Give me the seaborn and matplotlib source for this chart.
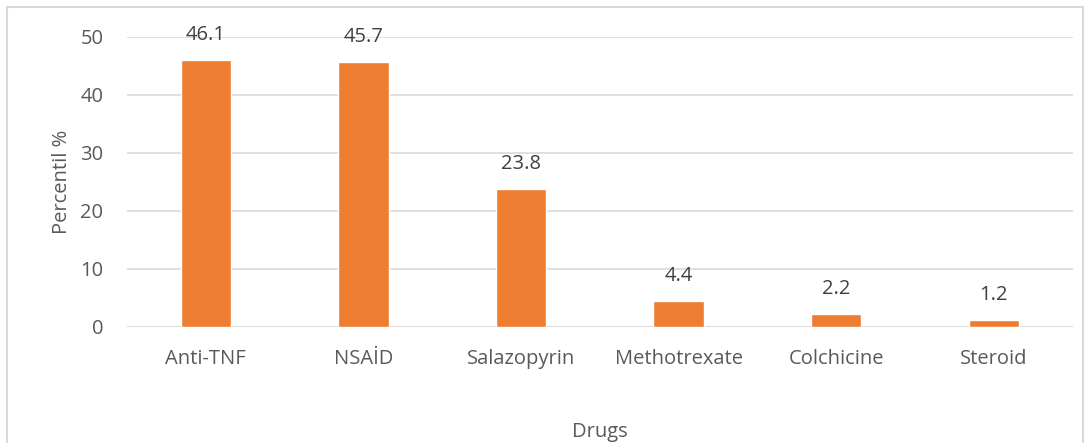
import matplotlib
matplotlib.use("Agg")
import matplotlib.pyplot as plt
import pandas as pd
import seaborn as sns
from matplotlib.patches import Rectangle

# values
drugs = ["Anti-TNF", "NSAİD", "Salazopyrin", "Methotrexate", "Colchicine", "Steroid"]
percent = [46.1, 45.7, 23.8, 4.4, 2.2, 1.2]
y_ticks = [0, 10, 20, 30, 40, 50]

df = pd.DataFrame({"drug": drugs, "pct": percent})

sns.set_theme(style="white")
plt.rcParams["font.family"] = ["Open Sans", "DejaVu Sans"]
text_col = "#595959"
fs = 14.5

fig = plt.figure(figsize=(10.9, 4.43), dpi=100)
ax = fig.add_axes([0.1165, 0.2619, 0.8675, 0.6546])

sns.barplot(data=df, x="drug", y="pct", color="#ED7D31", width=0.32,
            saturation=1, ax=ax, zorder=3)

for i, v in enumerate(percent):
    ax.text(i, v + 2.6, f"{v}", ha="center", va="bottom", fontsize=fs, color="#404040")

ax.set_ylim(0, 50)
ax.set_yticks(y_ticks)
ax.set_xlim(-0.5, len(drugs) - 0.5)
ax.yaxis.grid(True, color="#d9d9d9", linewidth=1.2, zorder=0)
ax.set_axisbelow(True)
for s in ax.spines.values():
    s.set_visible(False)
ax.axhline(0, color="#d9d9d9", linewidth=1.2, zorder=1)

ax.tick_params(axis="both", length=0, labelsize=fs, labelcolor=text_col)
ax.tick_params(axis="y", pad=17)
ax.tick_params(axis="x", pad=16)
ax.set_xlabel("Drugs", fontsize=fs, color=text_col, labelpad=38)
ax.set_ylabel("Percentil %", fontsize=fs, color=text_col, labelpad=6)

# outer chart border, as in the Excel export
fig.patches.append(Rectangle((7 / 1090, -0.05), (1083 - 7) / 1090, 1.05 - 7 / 443,
                             transform=fig.transFigure, fill=False,
                             edgecolor="#d9d9d9", linewidth=1.5))

fig.savefig("out.png", dpi=100)
